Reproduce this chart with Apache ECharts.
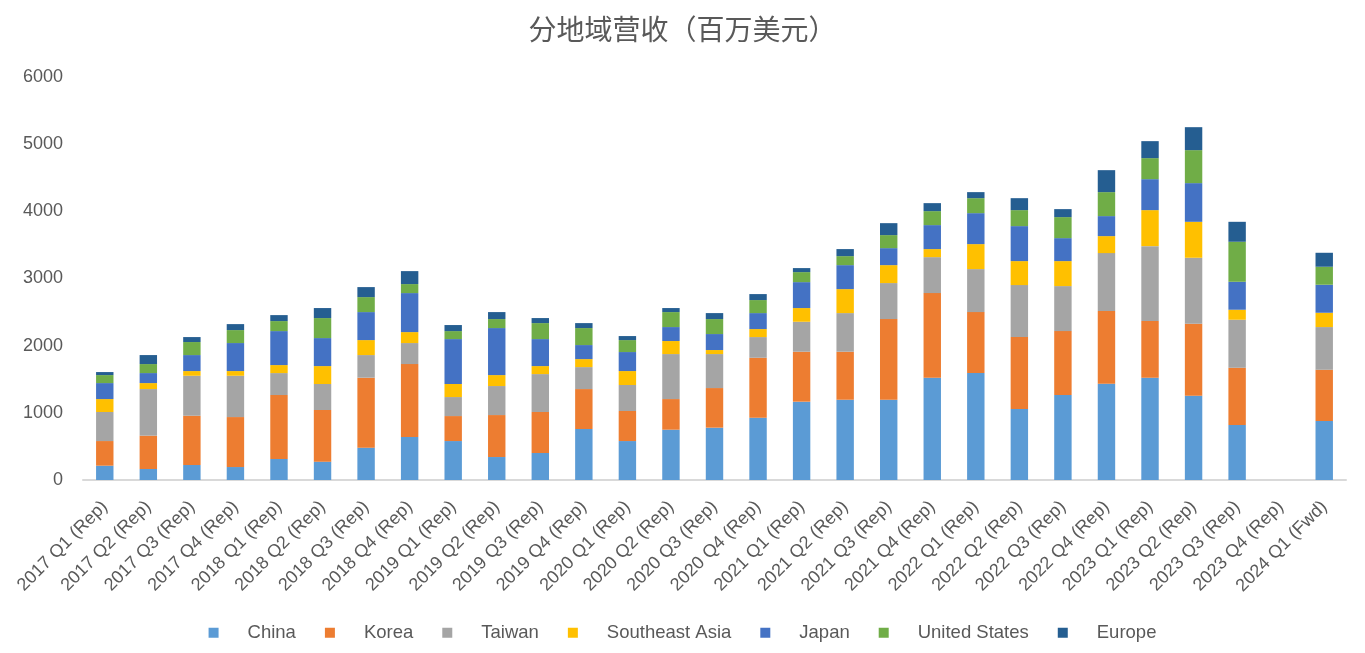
<!DOCTYPE html>
<html><head><meta charset="utf-8">
<script src="https://cdn.jsdelivr.net/npm/echarts@6/dist/echarts.min.js"></script>
<style>html,body{margin:0;padding:0;background:#fff}#c{width:1365px;height:653px}</style>
</head><body><div id="c"></div>
<script>
const categories = ["2017 Q1 (Rep)","2017 Q2 (Rep)","2017 Q3 (Rep)","2017 Q4 (Rep)","2018 Q1 (Rep)","2018 Q2 (Rep)","2018 Q3 (Rep)","2018 Q4 (Rep)","2019 Q1 (Rep)","2019 Q2 (Rep)","2019 Q3 (Rep)","2019 Q4 (Rep)","2020 Q1 (Rep)","2020 Q2 (Rep)","2020 Q3 (Rep)","2020 Q4 (Rep)","2021 Q1 (Rep)","2021 Q2 (Rep)","2021 Q3 (Rep)","2021 Q4 (Rep)","2022 Q1 (Rep)","2022 Q2 (Rep)","2022 Q3 (Rep)","2022 Q4 (Rep)","2023 Q1 (Rep)","2023 Q2 (Rep)","2023 Q3 (Rep)","2023 Q4 (Rep)","2024 Q1 (Fwd)"];
const china = [213,164,223,193,313,273,481,640,580,342,402,759,580,749,779,927,1166,1195,1195,1523,1592,1057,1265,1434,1523,1255,818,null,878];
const korea = [367,496,734,744,952,769,1042,1086,372,625,610,595,447,456,590,893,744,715,1201,1260,908,1071,952,1081,843,1071,853,null,763];
const taiwan = [432,694,595,615,327,387,337,313,283,432,565,327,387,670,506,308,446,575,536,535,640,774,670,863,1116,983,715,null,636];
const seAsia = [193,89,70,70,119,267,223,163,194,163,119,119,208,194,60,119,204,357,267,120,372,357,372,253,536,535,149,null,213];
const japan = [238,149,238,417,506,417,417,581,669,700,402,209,283,208,238,238,386,357,253,357,461,521,342,298,461,576,416,null,417];
const us = [119,134,194,193,149,298,223,134,119,134,238,253,178,223,223,194,149,134,194,208,223,238,313,357,313,491,596,null,268];
const europe = [45,134,74,89,89,149,149,193,90,104,75,74,60,60,89,89,60,105,178,119,90,178,119,327,253,342,297,null,208];
const yTicks = [0,1000,2000,3000,4000,5000,6000];

const seriesDefs = [
  ["China", china, "#5B9BD5"],
  ["Korea", korea, "#ED7D31"],
  ["Taiwan", taiwan, "#A5A5A5"],
  ["Southeast Asia", seAsia, "#FFC000"],
  ["Japan", japan, "#4472C4"],
  ["United States", us, "#70AD47"],
  ["Europe", europe, "#255E91"]
];
const font = "Arial, 'Liberation Sans', 'Noto Sans CJK SC', sans-serif";
const chart = echarts.init(document.getElementById('c'));
chart.setOption({
  animation: false,
  textStyle: {fontFamily: font},
  title: {text: "分地域营收（百万美元）", left: 'center', top: 10,
    textStyle: {fontFamily: "'Noto Sans CJK SC', sans-serif", fontSize: 28, fontWeight: 'normal', color: '#595959'}},
  grid: {left: 83, right: 19, top: 77, bottom: 173, containLabel: false},
  legend: {bottom: 6, left: 'center', itemWidth: 10, itemHeight: 10, itemGap: 29, icon: 'rect',
    textStyle: {fontSize: 18.5, color: '#595959', padding: [0,0,0,24]},
    data: seriesDefs.map(s => s[0])},
  xAxis: {type: 'category', data: categories,
    axisLine: {lineStyle: {color: '#D9D9D9', width: 2}},
    axisTick: {show: false},
    axisLabel: {rotate: 45, fontSize: 18, color: '#595959', interval: 0, margin: 24}},
  yAxis: {type: 'value', min: 0, max: 6000, interval: 1000,
    axisLine: {show: false}, axisTick: {show: false}, splitLine: {show: false},
    axisLabel: {fontSize: 18, color: '#595959', margin: 20,
      formatter: v => yTicks.includes(v) ? String(v) : ''}},
  series: seriesDefs.map(s => ({name: s[0], type: 'bar', stack: 'total', data: s[1],
    barWidth: '40%', itemStyle: {color: s[2]}}))
});
</script></body></html>
